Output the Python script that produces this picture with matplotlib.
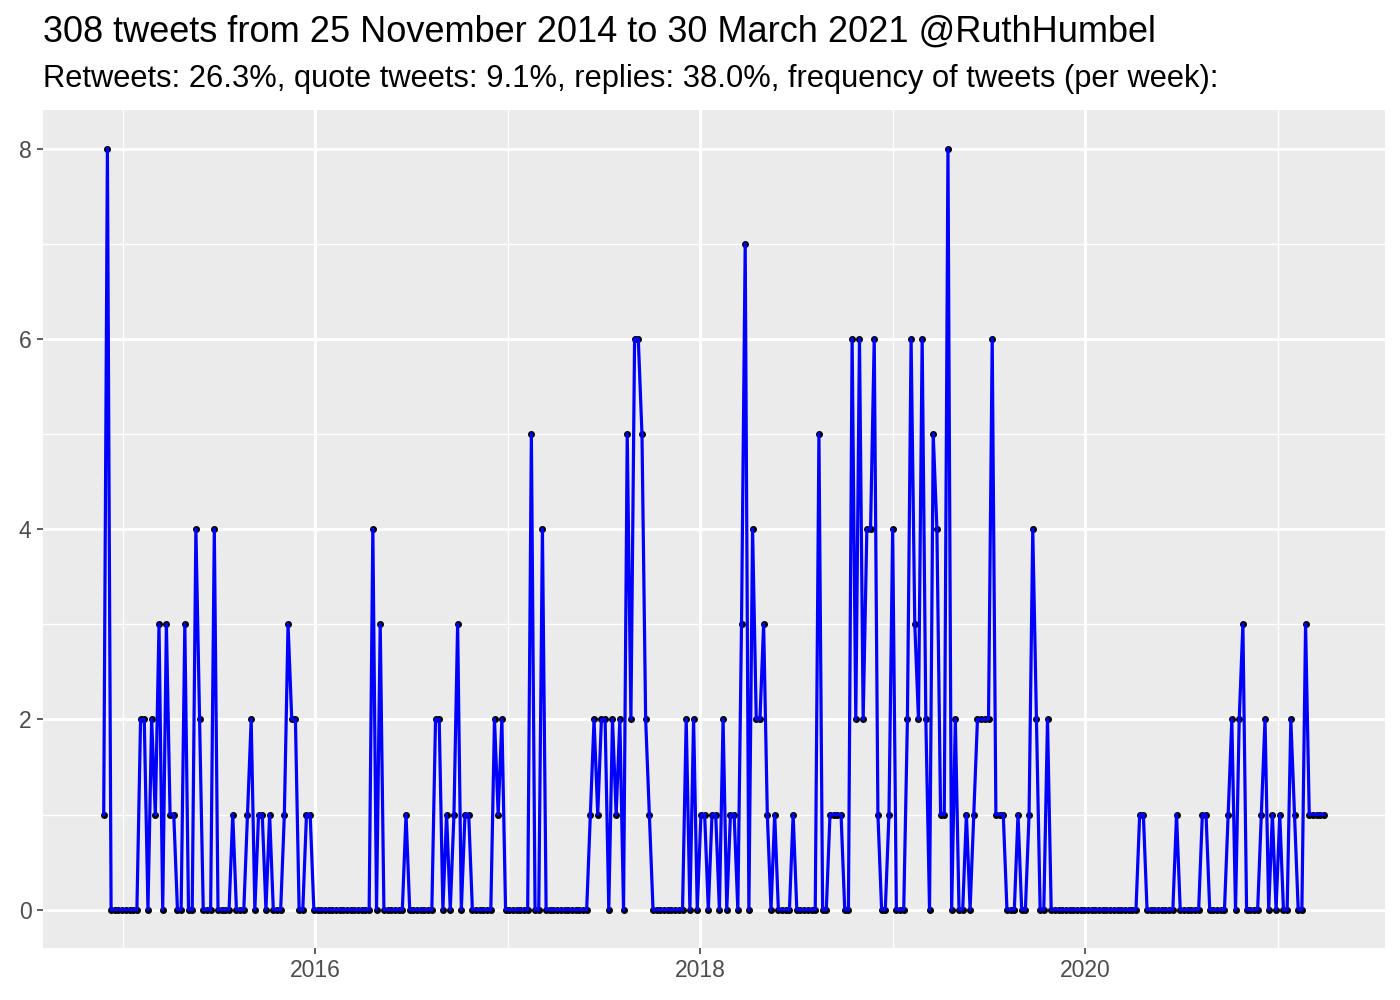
import pandas as pd
import numpy as np
import matplotlib
matplotlib.use("Agg")
import matplotlib.pyplot as plt
import matplotlib.dates as mdates

plt.rcParams['font.family'] = ['Liberation Sans', 'DejaVu Sans']

title = "308 tweets from 25 November 2014 to 30 March 2021 @RuthHumbel"
subtitle = ("Retweets: 26.3%, quote tweets: 9.1%, replies: 38.0%, "
            "frequency of tweets (per week):")

first_week = "2014-11-25"

# tweets per week
tweets = [
    1, 8, 0, 0, 0, 0, 0, 0, 0, 0,
    2, 2, 0, 2, 1, 3, 0, 3, 1, 1,
    0, 0, 3, 0, 0, 4, 2, 0, 0, 0,
    4, 0, 0, 0, 0, 1, 0, 0, 0, 1,
    2, 0, 1, 1, 0, 1, 0, 0, 0, 1,
    3, 2, 2, 0, 0, 1, 1, 0, 0, 0,
    0, 0, 0, 0, 0, 0, 0, 0, 0, 0,
    0, 0, 0, 4, 0, 3, 0, 0, 0, 0,
    0, 0, 1, 0, 0, 0, 0, 0, 0, 0,
    2, 2, 0, 1, 0, 1, 3, 0, 1, 1,
    0, 0, 0, 0, 0, 0, 2, 1, 2, 0,
    0, 0, 0, 0, 0, 0, 5, 0, 0, 4,
    0, 0, 0, 0, 0, 0, 0, 0, 0, 0,
    0, 0, 1, 2, 1, 2, 2, 0, 2, 1,
    2, 0, 5, 2, 6, 6, 5, 2, 1, 0,
    0, 0, 0, 0, 0, 0, 0, 0, 2, 0,
    2, 0, 1, 1, 0, 1, 1, 0, 2, 0,
    1, 1, 0, 3, 7, 0, 4, 2, 2, 3,
    1, 0, 1, 0, 0, 0, 0, 1, 0, 0,
    0, 0, 0, 0, 5, 0, 0, 1, 1, 1,
    1, 0, 0, 6, 2, 6, 2, 4, 4, 6,
    1, 0, 0, 1, 4, 0, 0, 0, 2, 6,
    3, 2, 6, 2, 0, 5, 4, 1, 1, 8,
    0, 2, 0, 0, 1, 0, 1, 2, 2, 2,
    2, 6, 1, 1, 1, 0, 0, 0, 1, 0,
    0, 1, 4, 2, 0, 0, 2, 0, 0, 0,
    0, 0, 0, 0, 0, 0, 0, 0, 0, 0,
    0, 0, 0, 0, 0, 0, 0, 0, 0, 0,
    0, 1, 1, 0, 0, 0, 0, 0, 0, 0,
    0, 1, 0, 0, 0, 0, 0, 0, 1, 1,
    0, 0, 0, 0, 0, 1, 2, 0, 2, 3,
    0, 0, 0, 0, 1, 2, 0, 1, 0, 1,
    0, 0, 2, 1, 0, 0, 3, 1, 1, 1,
    1, 1,
]

y_ticks = [0, 2, 4, 6, 8]
x_ticks = ["2016-01-01", "2018-01-01", "2020-01-01"]
x_minor = ["2015-01-01", "2017-01-01", "2019-01-01", "2021-01-01"]

weeks = pd.date_range(start=first_week, periods=len(tweets), freq="7D")

fig = plt.figure(figsize=(14, 10), dpi=100)
ax = fig.add_axes([0.0305, 0.0523, 0.9588, 0.8372])

ax.set_facecolor("#EBEBEB")
for s in ax.spines.values():
    s.set_visible(False)

ax.plot(weeks, tweets, "o", color="black", markersize=4, zorder=2)
ax.plot(weeks, tweets, color="#0000FF", linewidth=2.3, zorder=3)

# ggplot-like limits (5% expansion)
span = weeks[-1] - weeks[0]
ax.set_xlim(weeks[0] - span * 0.05, weeks[-1] + span * 0.05)
ax.set_ylim(-0.4, 8.4)

ax.set_yticks(y_ticks)
ax.set_yticks([1, 3, 5, 7], minor=True)
ax.set_xticks(pd.to_datetime(x_ticks))
ax.set_xticks(pd.to_datetime(x_minor), minor=True)
ax.xaxis.set_major_formatter(mdates.DateFormatter("%Y"))

ax.grid(which="major", color="white", linewidth=2.1, zorder=0)
ax.grid(which="minor", color="white", linewidth=1.0, zorder=0)
ax.set_axisbelow(True)

ax.tick_params(which="major", length=4, width=1.1, color="#333333",
               labelcolor="#4D4D4D", labelsize=16.5, pad=4)
ax.tick_params(which="minor", length=0)

fig.text(0.0305, 0.9583, title, fontsize=26, color="black",
         ha="left", va="baseline")
fig.text(0.0305, 0.9127, subtitle, fontsize=22.2, color="black",
         ha="left", va="baseline")

fig.savefig("out.png", dpi=100)
